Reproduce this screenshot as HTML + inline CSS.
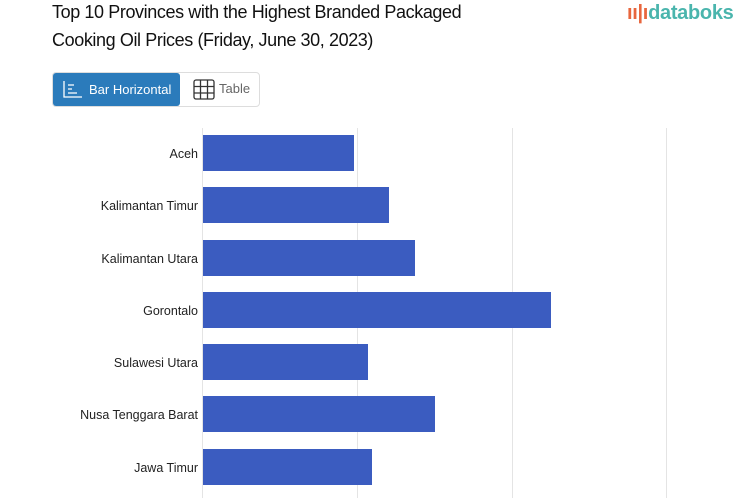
<!DOCTYPE html><html><head><style>
body{margin:0;width:753px;height:498px;background:#fff;font-family:"Liberation Sans",sans-serif;position:relative;overflow:hidden}
.t{position:absolute;left:52px;top:-2px;font-size:18px;line-height:28px;color:#111;letter-spacing:-0.4px}
.logo{position:absolute;left:627px;top:2px;font-size:20px;color:#4ab5ad;font-weight:bold;letter-spacing:-0.3px}
.logo span{color:#e8663d}
.bg{position:absolute;left:52px;top:72px;width:208px;height:35px;border:1px solid #ddd;border-radius:4px;box-sizing:border-box}
.b1{position:absolute;left:53px;top:73px;width:127px;height:33px;background:#2b7bbb;border-radius:3px;color:#fff;font-size:13px;line-height:33px}
.b2{position:absolute;left:192px;top:79px;font-size:13px;color:#666;line-height:20px}
.g{position:absolute;top:128px;height:370px;width:1px;background:#e4e4e4}
.bar{position:absolute;left:203px;height:36px;background:#3b5cc0}
.l{position:absolute;right:555px;font-size:12.5px;color:#222;text-align:right;white-space:nowrap}
</style></head><body>
<div class="t">Top 10 Provinces with the Highest Branded Packaged<br>Cooking Oil Prices (Friday, June 30, 2023)</div>
<div class="logo"><span>ıı|ı</span>databoks</div>
<div class="bg"></div>
<div class="b1"><svg style="position:absolute;left:10px;top:7px" width="20" height="19"><path d="M1 1V17H19M5 5H11M5 9H9M5 13H14" stroke="#fff" fill="none" stroke-width="1.3"/></svg><span style="position:absolute;left:36px">Bar Horizontal</span></div>
<svg style="position:absolute;left:193px;top:79px" width="22" height="21"><rect x="1" y="1" width="20" height="19" rx="2" stroke="#333" fill="none" stroke-width="1.3"/><path d="M7.5 1V20M14.5 1V20M1 7.5H21M1 14H21" stroke="#333" stroke-width="1.3"/></svg>
<div class="b2" style="left:219px">Table</div>
<div class="g" style="left:202px"></div><div class="g" style="left:357px"></div><div class="g" style="left:512px"></div><div class="g" style="left:666px"></div>
<div class="bar" style="top:135px;width:151px"></div><div class="l" style="top:147px">Aceh</div>
<div class="bar" style="top:187px;width:186px"></div><div class="l" style="top:199px">Kalimantan Timur</div>
<div class="bar" style="top:240px;width:212px"></div><div class="l" style="top:252px">Kalimantan Utara</div>
<div class="bar" style="top:292px;width:348px"></div><div class="l" style="top:304px">Gorontalo</div>
<div class="bar" style="top:344px;width:165px"></div><div class="l" style="top:356px">Sulawesi Utara</div>
<div class="bar" style="top:396px;width:232px"></div><div class="l" style="top:408px">Nusa Tenggara Barat</div>
<div class="bar" style="top:449px;width:169px"></div><div class="l" style="top:461px">Jawa Timur</div>
</body></html>
